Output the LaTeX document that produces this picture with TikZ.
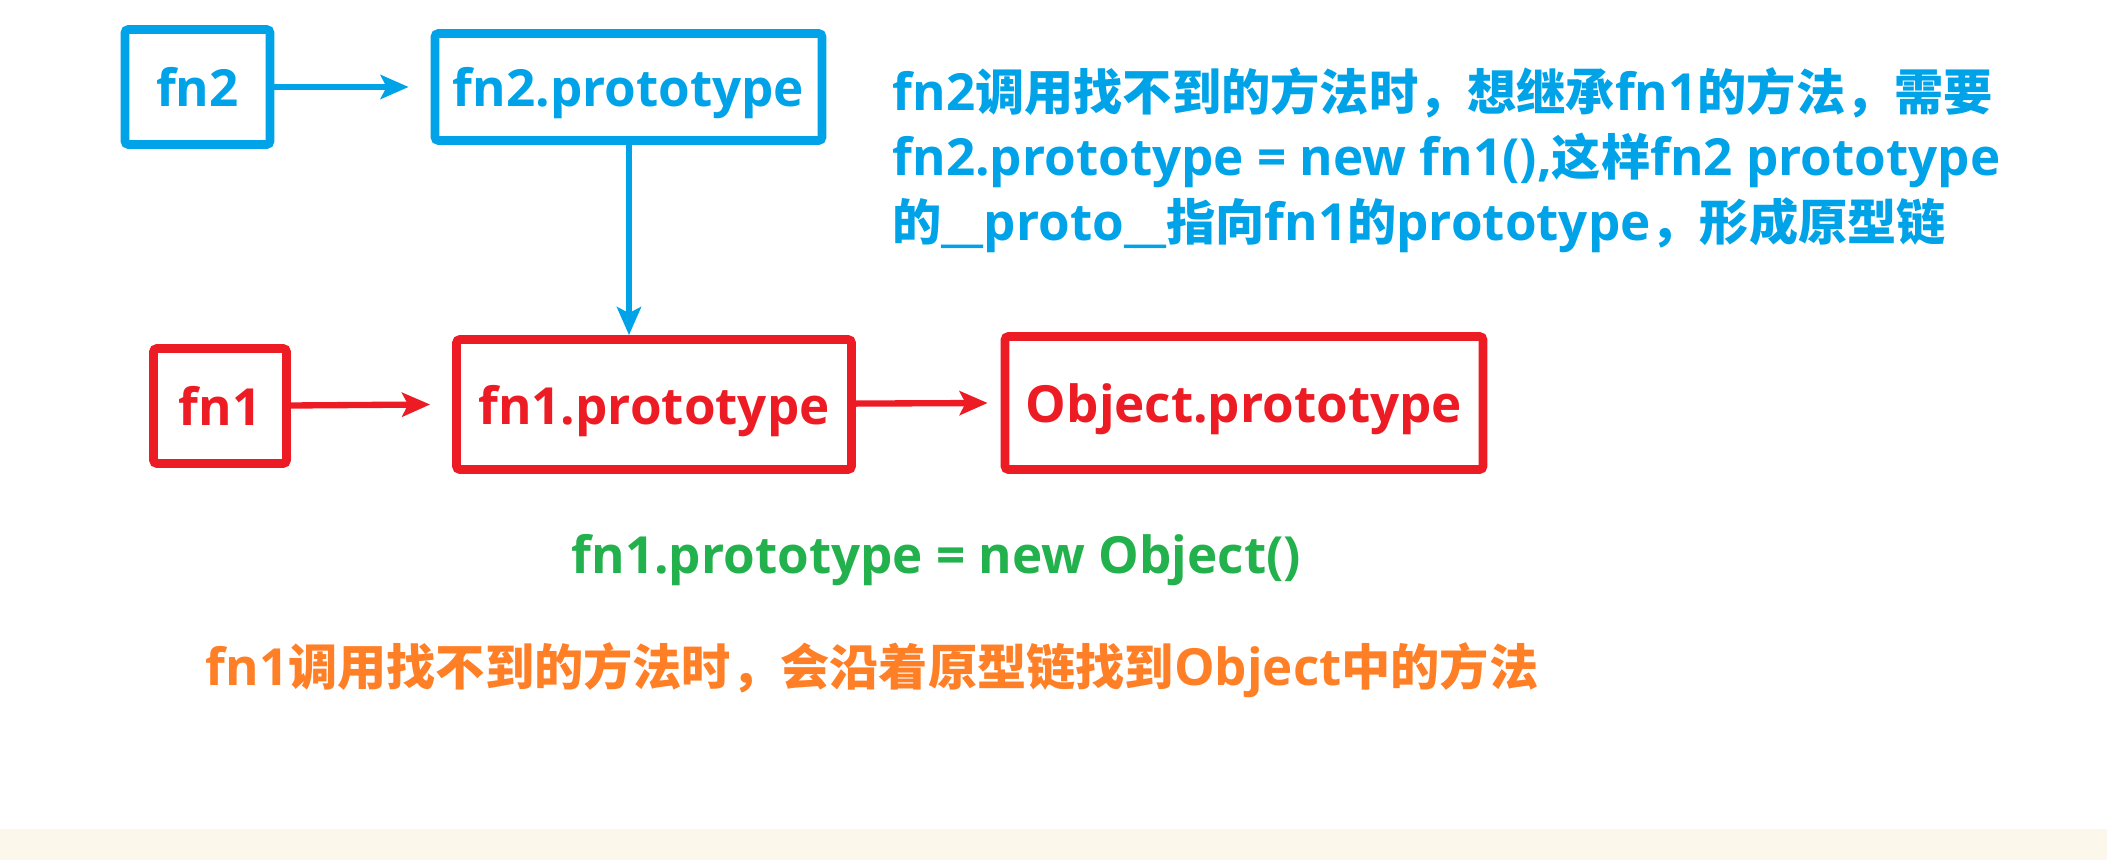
\documentclass[tikz,border=0pt]{standalone}
\usepackage{fontspec}
\setmainfont{Open Sans}[Scale=1.04]
\newfontfamily\cjk{Noto Sans CJK SC}
\usepackage{xcolor}
\usepackage{tikz}
\usetikzlibrary{arrows.meta, positioning}
\definecolor{protoblue}{RGB}{0, 162, 232}
\definecolor{protored}{RGB}{237, 28, 36}
\definecolor{protogreen}{RGB}{34, 177, 76}
\definecolor{protoorange}{RGB}{255, 127, 39}
\definecolor{protocream}{RGB}{251, 248, 235}
\newcommand{\zh}[1]{{\cjk #1}}

\begin{document}
\begin{tikzpicture}[
    bluebox/.style={draw=protoblue, line width=2.5pt, rounded corners=1pt,
                    text=protoblue, align=center, text depth=0pt,
                    font=\fontsize{14}{17}\selectfont\bfseries},
    redbox/.style={draw=protored, line width=2.5pt, rounded corners=1pt,
                   text=protored, align=center, text depth=0pt,
                   font=\fontsize{14}{17}\selectfont\bfseries},
    note/.style={align=left, inner sep=0pt,
                 font=\fontsize{14}{18.5}\selectfont\bfseries},
    arr/.style={-{Stealth[length=0.28cm, width=0.24cm, inset=0.06cm]},
                line width=1.8pt},
  ]
    \useasboundingbox (0,0) rectangle (21.07,8.60);
    \fill[protocream] (0,0) rectangle (21.07,0.31);

    % fn2 chain
    \node[bluebox, minimum width=1.45cm, minimum height=1.15cm] (fn2) at (1.975,7.73) {fn2};
    \node[bluebox, minimum width=3.87cm, minimum height=1.07cm] (fn2p) at (6.285,7.73) {fn2.prototype};
    % fn1 chain
    \node[redbox, minimum width=1.33cm, minimum height=1.15cm] (fn1) at (2.20,4.54) {fn1};
    \node[redbox, minimum width=3.95cm, minimum height=1.30cm] (fn1p) at (6.54,4.555) {fn1.prototype};
    \node[redbox, minimum width=4.78cm, minimum height=1.33cm] (objp) at (12.44,4.57) {Object.prototype};

    % notes
    \node[note, text=protoblue, anchor=west] (fn2note) at (8.92,7.00)
      {fn2\zh{调用找不到的方法时，想继承}fn1\zh{的方法，需要}\\
       fn2.prototype = new fn1(),\zh{这样}fn2 prototype\\
       \zh{的}\_\_proto\_\_\zh{指向}fn1\zh{的}prototype\zh{，形成原型链}};
    \node[note, text=protogreen, anchor=west] (fn1eq) at (5.71,3.00)
      {fn1.prototype = new Object()};
    \node[note, text=protoorange, anchor=west] (fn1note) at (2.05,1.90)
      {fn1\zh{调用找不到的方法时，会沿着原型链找到}Object\zh{中的方法}};

    \draw[arr, protoblue] (fn2) -- ([xshift=-0.22cm]fn2p.west);
    \draw[arr, protoblue] (fn2p.south -| 6.29,0) -- (fn1p.north -| 6.29,0);
    \draw[arr, protored] (fn1) -- ([xshift=-0.22cm]fn1p.west);
    \draw[arr, protored] (fn1p) -- ([xshift=-0.13cm]objp.west);
\end{tikzpicture}
\end{document}
